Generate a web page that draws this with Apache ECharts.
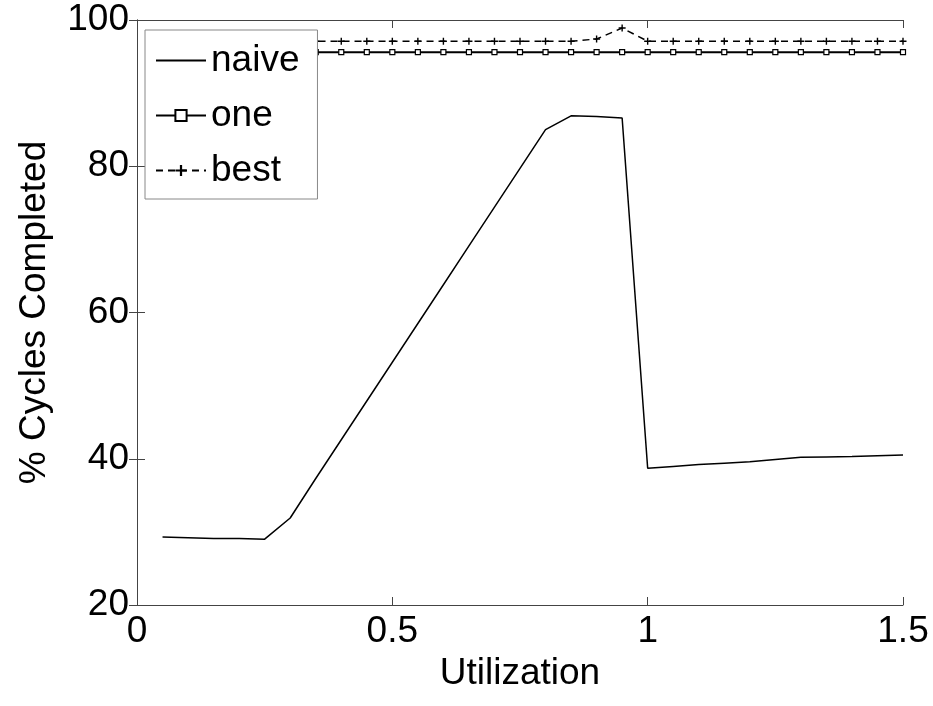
<!DOCTYPE html>
<html>
<head>
<meta charset="utf-8">
<script src="https://cdn.jsdelivr.net/npm/echarts@6/dist/echarts.min.js"></script>
<style>html,body{margin:0;padding:0;background:#fff}#c{width:933px;height:706px}</style>
</head>
<body>
<div id="c"></div>
<script>
var utilization = [0.05,0.1,0.15,0.2,0.25,0.3,0.35,0.4,0.45,0.5,0.55,0.6,0.65,0.7,0.75,0.8,0.85,0.9,0.95,1.0,1.05,1.1,1.15,1.2,1.25,1.3,1.35,1.4,1.45,1.5];
var naive = [29.3,29.2,29.1,29.1,29.0,31.9,37.3,42.6,47.9,53.2,58.5,63.8,69.1,74.4,79.7,85.0,86.9,86.8,86.6,38.7,38.95,39.2,39.4,39.6,39.9,40.2,40.25,40.3,40.4,40.5];
var one = [95.6,95.6,95.6,95.6,95.6,95.6,95.6,95.6,95.6,95.6,95.6,95.6,95.6,95.6,95.6,95.6,95.6,95.6,95.6,95.6,95.6,95.6,95.6,95.6,95.6,95.6,95.6,95.6,95.6,95.6];
var best = [97.1,97.1,97.1,97.1,97.1,97.1,97.1,97.1,97.1,97.1,97.1,97.1,97.1,97.1,97.1,97.1,97.1,97.4,98.9,97.1,97.1,97.1,97.1,97.1,97.1,97.1,97.1,97.1,97.1,97.1];
var seriesNames = ['naive','one','best'];
var xTicks = [0,0.5,1,1.5];
var yTicks = [20,40,60,80,100];

function pairs(ys){ return utilization.map(function(x,i){ return [x, ys[i]]; }); }

var FONT = 'Liberation Sans';
var axisColor = '#444';
var plus = 'path://M4,0 L6,0 L6,4 L10,4 L10,6 L6,6 L6,10 L4,10 L4,6 L0,6 L0,4 L4,4 Z';

var chart = echarts.init(document.getElementById('c'), null, {renderer:'canvas'});
chart.setOption({
  animation: false,
  backgroundColor: '#fff',
  grid: {left:137, right:30, top:20, bottom:101, containLabel:false},
  legend: {
    orient: 'vertical', left: 145, top: 30,
    data: [
      {name: seriesNames[0], itemStyle: {opacity: 0, borderWidth: 0}},
      {name: seriesNames[1]},
      {name: seriesNames[2]}
    ],
    itemWidth: 50, itemHeight: 14, itemGap: 14,
    padding: [10, 18, 8, 10],
    backgroundColor: '#fff', borderColor: '#888', borderWidth: 1,
    textStyle: {fontFamily: FONT, fontSize: 37, color: '#000', lineHeight: 41},
    selectedMode: false
  },
  xAxis: [{
    type:'value', min:0, max:1.5, interval:0.5,
    axisLine:{show:true, lineStyle:{color:axisColor, width:1}},
    axisTick:{show:true, inside:true, length:8, lineStyle:{color:axisColor}},
    axisLabel:{fontFamily:FONT, fontSize:37, color:'#000', margin:8,
      formatter:function(v){ return xTicks.indexOf(v)>=0 ? String(v) : ''; }},
    splitLine:{show:false},
    name:'Utilization', nameLocation:'middle', nameGap:45,
    nameTextStyle:{fontFamily:FONT, fontSize:37, color:'#000'}
  },{
    type:'value', position:'top', min:0, max:1.5, interval:0.5,
    axisLine:{show:true, lineStyle:{color:axisColor, width:1}},
    axisTick:{show:true, inside:true, length:8, lineStyle:{color:axisColor}},
    axisLabel:{show:false}, splitLine:{show:false}
  }],
  yAxis: [{
    type:'value', min:20, max:100, interval:20,
    axisLine:{show:true, lineStyle:{color:axisColor, width:1}},
    axisTick:{show:true, inside:true, length:8, lineStyle:{color:axisColor}},
    axisLabel:{fontFamily:FONT, fontSize:37, color:'#000', margin:8,
      formatter:function(v){ return yTicks.indexOf(v)>=0 ? String(v) : ''; }},
    splitLine:{show:false},
    name:'% Cycles Completed', nameLocation:'middle', nameGap:84, nameRotate:90,
    nameTextStyle:{fontFamily:FONT, fontSize:37, color:'#000'}
  },{
    type:'value', position:'right', min:20, max:100, interval:20,
    axisLine:{show:true, lineStyle:{color:axisColor, width:1}},
    axisTick:{show:true, inside:true, length:8, lineStyle:{color:axisColor}},
    axisLabel:{show:false}, splitLine:{show:false}
  }],
  series: [{
    name:'naive', type:'line', data:pairs(naive),
    symbol:'none', lineStyle:{color:'#000', width:1.5}, itemStyle:{color:'#000'}
  },{
    name:'one', type:'line', data:pairs(one),
    symbol:'rect', symbolSize:5, showAllSymbol:true,
    lineStyle:{color:'#000', width:2},
    itemStyle:{color:'#fff', borderColor:'#000', borderWidth:1.2}
  },{
    name:'best', type:'line', data:pairs(best),
    symbol:plus, symbolSize:7, showAllSymbol:true,
    lineStyle:{color:'#000', width:1.5, type:[7,5]},
    itemStyle:{color:'#000'}
  }]
});
</script>
</body>
</html>
